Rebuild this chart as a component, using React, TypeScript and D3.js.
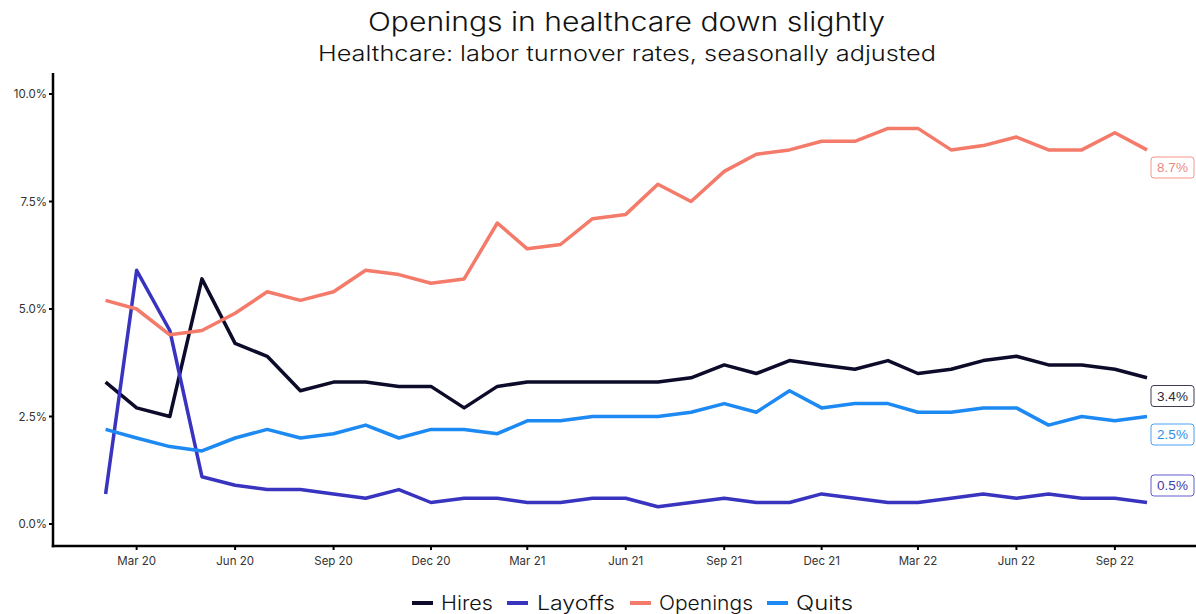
import React from "react";
import * as d3 from "d3";

const months: string[] = [
  "2020-02", "2020-03", "2020-04", "2020-05", "2020-06", "2020-07", "2020-08", "2020-09", "2020-10", "2020-11", "2020-12",
  "2021-01", "2021-02", "2021-03", "2021-04", "2021-05", "2021-06", "2021-07", "2021-08", "2021-09", "2021-10", "2021-11", "2021-12",
  "2022-01", "2022-02", "2022-03", "2022-04", "2022-05", "2022-06", "2022-07", "2022-08", "2022-09", "2022-10",
];

const hires: number[] = [
  3.3, 2.7, 2.5, 5.7, 4.2, 3.9, 3.1, 3.3, 3.3, 3.2, 3.2,
  2.7, 3.2, 3.3, 3.3, 3.3, 3.3, 3.3, 3.4, 3.7, 3.5, 3.8, 3.7,
  3.6, 3.8, 3.5, 3.6, 3.8, 3.9, 3.7, 3.7, 3.6, 3.4,
];
const layoffs: number[] = [
  0.7, 5.9, 4.5, 1.1, 0.9, 0.8, 0.8, 0.7, 0.6, 0.8, 0.5,
  0.6, 0.6, 0.5, 0.5, 0.6, 0.6, 0.4, 0.5, 0.6, 0.5, 0.5, 0.7,
  0.6, 0.5, 0.5, 0.6, 0.7, 0.6, 0.7, 0.6, 0.6, 0.5,
];
const openings: number[] = [
  5.2, 5.0, 4.4, 4.5, 4.9, 5.4, 5.2, 5.4, 5.9, 5.8, 5.6,
  5.7, 7.0, 6.4, 6.5, 7.1, 7.2, 7.9, 7.5, 8.2, 8.6, 8.7, 8.9,
  8.9, 9.2, 9.2, 8.7, 8.8, 9.0, 8.7, 8.7, 9.1, 8.7,
];
const quits: number[] = [
  2.2, 2.0, 1.8, 1.7, 2.0, 2.2, 2.0, 2.1, 2.3, 2.0, 2.2,
  2.2, 2.1, 2.4, 2.4, 2.5, 2.5, 2.5, 2.6, 2.8, 2.6, 3.1, 2.7,
  2.8, 2.8, 2.6, 2.6, 2.7, 2.7, 2.3, 2.5, 2.4, 2.5,
];

const seriesNames: string[] = ["Hires", "Layoffs", "Openings", "Quits"];
const seriesColors: string[] = ["#0c0b2a", "#3934bf", "#f47a6a", "#1d89f2"];
const labelTextColors: string[] = ["#2a2a3a", "#3e3ab0", "#e98a80", "#2e8fe8"];
const labelCenterY: number[] = [396, 485.5, 167.5, 434.5];

const yTicks: number[] = [0, 2.5, 5, 7.5, 10];
const xTickDates: string[] = [
  "2020-03", "2020-06", "2020-09", "2020-12", "2021-03", "2021-06", "2021-09", "2021-12", "2022-03", "2022-06", "2022-09",
];

const title = "Openings in healthcare down slightly";
const subtitle = "Healthcare: labor turnover rates, seasonally adjusted";

const parse = d3.timeParse("%Y-%m");
const FONT = "Inter, 'Noto Sans', sans-serif";

export default function App() {
  const W = 1196;
  const H = 614;
  const dates = months.map((m) => parse(m) as Date);
  const x = d3.scaleTime().domain([dates[0], dates[dates.length - 1]]).range([105.6, 1147]);
  const y = d3.scaleLinear().domain([0, 10]).range([524, 94]);
  const allSeries = [hires, layoffs, openings, quits];
  const line = d3
    .line<number>()
    .x((_, i) => x(dates[i]))
    .y((d) => y(d));
  const fmt = d3.format(".1f");
  const axisLeft = 53;
  const axisBottom = 546;
  const axisTop = 73;
  const fmtX = d3.timeFormat("%b %y");

  // legend layout
  const legendY = 603;
  const legendItems = [
    { x: 412, tx: 441, w: 52 },
    { x: 507, tx: 537, w: 78 },
    { x: 630, tx: 659, w: 94 },
    { x: 767, tx: 796, w: 57 },
  ];

  return (
    <svg width={W} height={H} style={{ display: "block", position: "absolute", left: 0, top: 0 }} fontFamily={FONT}>
      <rect width={W} height={H} fill="#fff" />
      <text x={368} y={31} fontSize={26} fontWeight={300} fill="#111" textLength={517} lengthAdjust="spacingAndGlyphs">
        {title}
      </text>
      <text x={318} y={61} fontSize={21} fontWeight={300} fill="#111" textLength={618} lengthAdjust="spacingAndGlyphs">
        {subtitle}
      </text>

      {/* axes */}
      <line x1={axisLeft} x2={axisLeft} y1={axisTop} y2={axisBottom + 1.25} stroke="#000" strokeWidth={2.5} />
      <line x1={axisLeft - 1.25} x2={1199} y1={axisBottom} y2={axisBottom} stroke="#000" strokeWidth={2.5} />
      {yTicks.map((t) => (
        <g key={t}>
          <line x1={axisLeft - 4} x2={axisLeft} y1={y(t)} y2={y(t)} stroke="#000" strokeWidth={2} />
          <text x={axisLeft - 6} y={y(t)} dy="0.35em" textAnchor="end" fontSize={11.5} fill="#333">
            {fmt(t) + "%"}
          </text>
        </g>
      ))}
      {xTickDates.map((s) => {
        const d = parse(s) as Date;
        const xx = x(d);
        return (
          <g key={s}>
            <line x1={xx} x2={xx} y1={axisBottom} y2={axisBottom + 4} stroke="#000" strokeWidth={2} />
            <text x={xx} y={axisBottom + 15} dy="0.35em" textAnchor="middle" fontSize={11.5} fill="#333">
              {fmtX(d)}
            </text>
          </g>
        );
      })}

      {/* lines */}
      {allSeries.map((vals, si) => (
        <path
          key={seriesNames[si]}
          d={line(vals) || ""}
          fill="none"
          stroke={seriesColors[si]}
          strokeWidth={3.5}
          strokeLinejoin="round"
        />
      ))}

      {/* end labels */}
      {allSeries.map((vals, si) => {
        const v = vals[vals.length - 1];
        const cy = labelCenterY[si];
        const bx = 1151;
        const bw = 43;
        const bh = 21;
        return (
          <g key={"lab" + si}>
            <rect
              x={bx}
              y={cy - bh / 2}
              width={bw}
              height={bh}
              rx={3}
              fill="#fff"
              stroke={seriesColors[si]}
              strokeOpacity={0.8}
              strokeWidth={1}
            />
            <text x={bx + bw / 2} y={cy} dy="0.36em" textAnchor="middle" fontSize={13.5} fill={labelTextColors[si]} fontFamily="'Liberation Sans', Arial, sans-serif">
              {fmt(v) + "%"}
            </text>
          </g>
        );
      })}

      {/* legend */}
      {seriesNames.map((n, i) => (
        <g key={"leg" + n}>
          <line
            x1={legendItems[i].x}
            x2={legendItems[i].x + 21}
            y1={legendY}
            y2={legendY}
            stroke={seriesColors[i]}
            strokeWidth={4}
          />
          <text x={legendItems[i].tx} y={legendY} dy="0.36em" fontSize={19.5} fontWeight={300} fill="#111" textLength={legendItems[i].w} lengthAdjust="spacingAndGlyphs">
            {n}
          </text>
        </g>
      ))}
    </svg>
  );
}
